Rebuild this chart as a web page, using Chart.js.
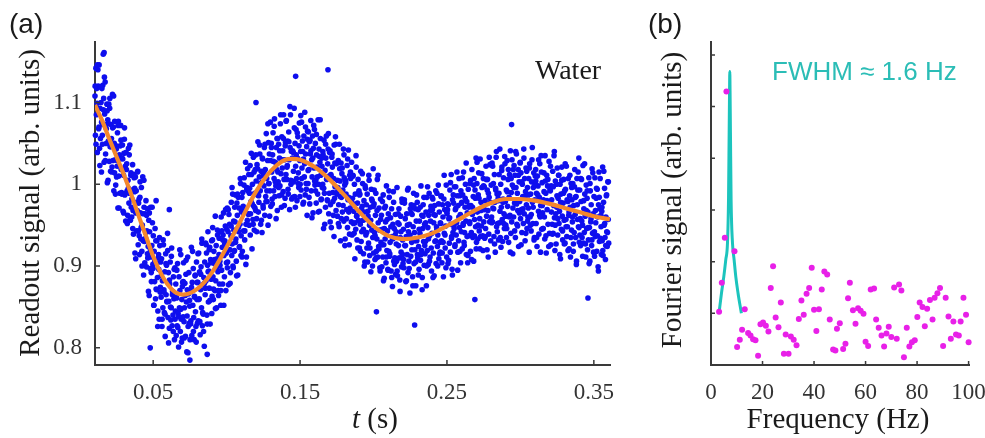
<!DOCTYPE html>
<html>
<head>
<meta charset="utf-8">
<script src="https://cdn.jsdelivr.net/npm/chart.js@4.4.1/dist/chart.umd.min.js"></script>
<style>
  html, body { margin: 0; padding: 0; background: #fff; overflow: hidden; }
  #wrap { position: relative; width: 985px; height: 438px; overflow: hidden; }
  canvas { position: absolute; top: 0; }
  #chartA { left: 0; }
  #chartB { left: 640px; }
</style>
</head>
<body>
<div id="wrap">
  <canvas id="chartA" width="640" height="438"></canvas>
  <canvas id="chartB" width="360" height="438"></canvas>
</div>
<script>
// (a) readout signal, time in units of 0.1 ms, signal x1000
const readoutTime = [
104,107,110,113,116,120,123,126,129,132,135,138,141,145,148,151,
154,157,160,163,166,170,173,176,179,182,185,188,191,195,198,201,
204,207,210,213,216,220,223,226,229,232,235,238,241,245,248,251,
254,257,260,263,266,270,273,276,279,282,285,288,291,295,298,301,
304,307,310,313,316,320,323,326,329,332,335,338,341,345,348,351,
354,357,360,363,366,370,373,376,379,382,385,388,391,395,398,401,
404,407,410,413,416,420,423,426,429,432,435,438,441,445,448,451,
454,457,460,463,466,470,473,476,479,482,485,488,491,495,498,501,
504,507,510,513,516,520,523,526,529,532,535,538,541,545,548,551,
554,557,560,563,566,570,573,576,579,582,585,588,591,595,598,601,
604,607,610,613,616,620,623,626,629,632,635,638,641,645,648,651,
654,657,660,663,666,670,673,676,679,682,685,688,691,695,698,701,
704,707,710,713,716,720,723,726,729,732,735,738,741,745,748,751,
754,757,760,763,766,770,773,776,779,782,785,788,791,795,798,801,
804,807,810,813,816,820,823,826,829,832,835,838,841,845,848,851,
854,857,860,863,866,870,873,876,879,882,885,888,891,895,898,901,
904,907,910,913,916,920,923,926,929,932,935,938,941,945,948,951,
954,957,960,963,966,970,973,976,979,982,985,988,991,995,998,1001,
1004,1007,1010,1013,1016,1020,1023,1026,1029,1032,1035,1038,1041,1045,1048,1051,
1054,1057,1060,1063,1066,1070,1073,1076,1079,1082,1085,1088,1091,1095,1098,1101,
1104,1107,1110,1113,1116,1120,1123,1126,1129,1132,1135,1138,1141,1145,1148,1151,
1154,1157,1160,1163,1166,1170,1173,1176,1179,1182,1185,1188,1191,1195,1198,1201,
1204,1207,1210,1213,1216,1220,1223,1226,1229,1232,1235,1238,1241,1245,1248,1251,
1254,1257,1260,1263,1266,1270,1273,1276,1279,1282,1285,1288,1291,1295,1298,1301,
1304,1307,1310,1313,1316,1320,1323,1326,1329,1332,1335,1338,1341,1345,1348,1351,
1354,1357,1360,1363,1366,1370,1373,1376,1379,1382,1385,1388,1391,1395,1398,1401,
1404,1407,1410,1413,1416,1420,1423,1426,1429,1432,1435,1438,1441,1445,1448,1451,
1454,1457,1460,1463,1466,1470,1473,1476,1479,1482,1485,1488,1491,1495,1498,1501,
1504,1507,1510,1513,1516,1520,1523,1526,1529,1532,1535,1538,1541,1545,1548,1551,
1554,1557,1560,1563,1566,1570,1573,1576,1579,1582,1585,1588,1591,1595,1598,1601,
1604,1607,1610,1613,1616,1620,1623,1626,1629,1632,1635,1638,1641,1645,1648,1651,
1654,1657,1660,1663,1666,1670,1673,1676,1679,1682,1685,1688,1691,1695,1698,1701,
1704,1707,1710,1713,1716,1720,1723,1726,1729,1732,1735,1738,1741,1745,1748,1751,
1754,1757,1760,1763,1766,1770,1773,1776,1779,1782,1785,1788,1791,1795,1798,1801,
1804,1807,1810,1813,1816,1820,1823,1826,1829,1832,1835,1838,1841,1845,1848,1851,
1854,1857,1860,1863,1866,1870,1873,1876,1879,1882,1885,1888,1891,1895,1898,1901,
1904,1907,1910,1913,1916,1920,1923,1926,1929,1932,1935,1938,1941,1945,1948,1951,
1954,1957,1960,1963,1966,1970,1973,1976,1979,1982,1985,1988,1991,1995,1998,2001,
2004,2007,2010,2013,2016,2020,2023,2026,2029,2032,2035,2038,2041,2045,2048,2051,
2054,2057,2060,2063,2066,2070,2073,2076,2079,2082,2085,2088,2091,2095,2098,2101,
2104,2107,2110,2113,2116,2120,2123,2126,2129,2132,2135,2138,2141,2145,2148,2151,
2154,2157,2160,2163,2166,2170,2173,2176,2179,2182,2185,2188,2191,2195,2198,2201,
2204,2207,2210,2213,2216,2220,2223,2226,2229,2232,2235,2238,2241,2245,2248,2251,
2254,2257,2260,2263,2266,2270,2273,2276,2279,2282,2285,2288,2291,2295,2298,2301,
2304,2307,2310,2313,2316,2320,2323,2326,2329,2332,2335,2338,2341,2345,2348,2351,
2354,2357,2360,2363,2366,2370,2373,2376,2379,2382,2385,2388,2391,2395,2398,2401,
2404,2407,2410,2413,2416,2420,2423,2426,2429,2432,2435,2438,2441,2445,2448,2451,
2454,2457,2460,2463,2466,2470,2473,2476,2479,2482,2485,2488,2491,2495,2498,2501,
2504,2507,2510,2513,2516,2520,2523,2526,2529,2532,2535,2538,2541,2545,2548,2551,
2554,2557,2560,2563,2566,2570,2573,2576,2579,2582,2585,2588,2591,2595,2598,2601,
2604,2607,2610,2613,2616,2620,2623,2626,2629,2632,2635,2638,2641,2645,2648,2651,
2654,2657,2660,2663,2666,2670,2673,2676,2679,2682,2685,2688,2691,2695,2698,2701,
2704,2707,2710,2713,2716,2720,2723,2726,2729,2732,2735,2738,2741,2745,2748,2751,
2754,2757,2760,2763,2766,2770,2773,2776,2779,2782,2785,2788,2791,2795,2798,2801,
2804,2807,2810,2813,2816,2820,2823,2826,2829,2832,2835,2838,2841,2845,2848,2851,
2854,2857,2860,2863,2866,2870,2873,2876,2879,2882,2885,2888,2891,2895,2898,2901,
2904,2907,2910,2913,2916,2920,2923,2926,2929,2932,2935,2938,2941,2945,2948,2951,
2954,2957,2960,2963,2966,2970,2973,2976,2979,2982,2985,2988,2991,2995,2998,3001,
3004,3007,3010,3013,3016,3020,3023,3026,3029,3032,3035,3038,3041,3045,3048,3051,
3054,3057,3060,3063,3066,3070,3073,3076,3079,3082,3085,3088,3091,3095,3098,3101,
3104,3107,3110,3113,3116,3120,3123,3126,3129,3132,3135,3138,3141,3145,3148,3151,
3154,3157,3160,3163,3166,3170,3173,3176,3179,3182,3185,3188,3191,3195,3198,3201,
3204,3207,3210,3213,3216,3220,3223,3226,3229,3232,3235,3238,3241,3245,3248,3251,
3254,3257,3260,3263,3266,3270,3273,3276,3279,3282,3285,3288,3291,3295,3298,3301,
3304,3307,3310,3313,3316,3320,3323,3326,3329,3332,3335,3338,3341,3345,3348,3351,
3354,3357,3360,3363,3366,3370,3373,3376,3379,3382,3385,3388,3391,3395,3398,3401,
3404,3407,3410,3413,3416,3420,3423,3426,3429,3432,3435,3438,3441,3445,3448,3451,
3454,3457,3460,3463,3466,3470,3473,3476,3479,3482,3485,3488,3491,3495,3498,3501,
3504,3507,3510,3513,3516,3520,3523,3526,3529,3532,3535,3538,3541,3545,3548,3551,
3554,3557,3560,3563,3566,3570,3573,3576,3579,3582,3585,3588,3591,3595,3598,3601
];
const readoutSignal = [
1108,1060,1142,1085,1117,1039,1093,1120,1068,1146,1044,1093,1056,1100,1015,1117,
1060,1121,1073,1105,1027,1086,1125,1037,1073,1050,1098,1002,1079,1053,1098,1028,
1093,1046,1016,1073,1056,1021,1110,1029,1070,992,1050,1077,1030,999,1047,1009,
1029,1063,971,1077,1010,1036,989,1047,1072,1018,990,1032,1048,967,1011,1038,
1055,987,1022,955,1039,1025,992,962,1005,1044,977,989,1048,956,1011,972,
960,993,1024,968,939,1008,991,916,1009,965,992,943,968,1016,926,977,
982,914,984,965,933,996,918,950,1009,931,889,972,930,964,934,980,
899,943,970,910,924,956,864,942,897,972,911,881,925,953,902,937,
852,918,881,946,860,872,903,931,886,845,910,896,835,925,868,905,
862,909,826,882,849,926,871,843,893,814,915,865,901,856,940,837,
892,857,824,878,905,834,849,922,827,869,840,887,860,810,898,845,
878,815,861,827,903,842,801,887,849,870,820,914,835,859,812,880,
838,904,832,849,879,814,890,856,795,871,911,826,866,830,858,810,
869,833,923,815,880,852,897,837,810,862,888,844,826,905,859,830,
880,833,916,860,893,816,871,899,849,928,827,877,841,886,802,905,
865,928,882,916,840,901,942,856,894,873,923,829,908,884,931,863,
932,887,859,918,903,870,961,882,925,849,909,938,893,864,914,878,
906,942,852,960,895,923,878,938,965,913,887,931,949,870,916,945,
971,905,942,877,963,951,920,892,937,978,913,927,988,898,955,918,
919,954,987,933,906,977,962,889,984,942,971,924,951,1001,913,966,
984,918,990,973,943,1008,932,966,1027,951,911,996,956,992,964,1012,
950,995,1023,964,979,1012,921,1000,957,1033,973,944,989,1018,968,1004,
958,1024,987,1052,966,978,1009,1037,992,951,1016,1002,941,1031,974,1011,
998,1045,962,1018,985,1062,1007,979,1029,950,1051,1001,1037,992,1076,973,
1050,1015,982,1036,1063,992,1007,1080,985,1027,998,1045,1018,968,1056,1003,
1049,986,1032,998,1074,1013,972,1058,1020,1041,991,1085,1006,1030,983,1051,
1012,1078,1006,1023,1053,988,1064,1030,969,1045,1085,1000,1040,1004,1032,984,
1039,1003,1093,985,1050,1022,1067,1007,980,1032,1058,1014,996,1075,1029,1000,
1040,993,1076,1020,1053,976,1031,1059,1009,1088,987,1037,1001,1046,962,1065,
1001,1064,1018,1052,976,1037,1078,992,1030,1009,1059,965,1044,1020,1067,999,
1050,1005,977,1036,1021,988,1079,1000,1043,967,1027,1056,1011,982,1032,996,
1000,1036,946,1054,989,1017,972,1032,1059,1007,981,1025,1043,964,1010,1039,
1041,975,1012,947,1033,1021,990,962,1007,1048,983,997,1058,968,1025,988,
961,996,1029,975,948,1019,1004,931,1026,984,1013,966,993,1043,955,1008,
999,933,1005,988,958,1023,947,981,1042,966,926,1011,971,1007,979,1027,
938,983,1011,952,967,1000,909,988,945,1021,961,932,977,1006,956,992,
922,988,951,1016,930,942,973,1001,956,915,980,966,905,995,938,975,
941,988,905,961,928,1005,950,922,972,893,994,944,980,935,1019,916,
976,941,908,962,989,918,933,1006,911,953,924,971,944,894,982,929,
962,899,945,911,987,926,885,971,933,954,904,998,919,943,896,964,
918,984,912,929,959,894,970,936,875,951,991,906,946,910,938,890,
942,906,996,888,953,925,970,910,883,935,961,917,899,978,932,903,
945,898,981,925,958,881,936,964,914,993,892,942,906,951,867,970,
912,975,929,963,887,948,989,903,941,920,970,876,955,931,978,910,
969,924,896,955,940,907,998,919,962,886,946,975,930,901,951,915,
930,966,876,984,919,947,902,962,989,937,911,955,973,894,940,969,
982,916,953,888,974,962,931,903,948,989,924,938,999,909,966,929,
917,952,985,931,904,975,960,887,982,940,969,922,949,999,911,964,
969,903,975,958,928,993,917,951,1012,936,896,981,941,977,949,997,
924,969,997,938,953,986,895,974,931,1007,947,918,963,992,942,978,
921,987,950,1015,929,941,972,1000,955,914,979,965,904,994,937,974,
954,1001,918,974,941,1018,963,935,985,906,1007,957,993,948,1032,929,
1001,966,933,987,1014,943,958,1031,936,978,949,996,969,919,1007,954,
997,934,980,946,1022,961,920,1006,968,989,939,1033,954,978,931,999,
960,1026,954,971,1001,936,1012,978,917,993,1033,948,988,952,980,932,
989,953,1043,935,1000,972,1017,957,930,982,1008,964,946,1025,979,950,
993,946,1029,973,1006,929,984,1012,962,1041,940,990,954,999,915,1018,
960,1023,977,1011,935,996,1037,951,989,968,1018,924,1003,979,1026,958,
1014,969,941,1000,985,952,1043,964,1007,931,991,1020,975,946,996,960,
971,1007,917,1025,960,988,943,1003,1030,978,952,996,1014,935,981,1010,
1018,952,989,924,1010,998,967,939,984,1025,960,974,1035,945,1002,965,
946,981,1014,960,933,1004,989,916,1011,969,998,951,978,1028,940,993,
992,926,998,981,951,1016,940,974,1035,959,919,1004,964,1000,972,1020,
938,983,1011,952,967,1000,909,988,945,1021,961,932,977,1006,956,992,
928,994,957,1022,936,948,979,1007,962,921,986,972,911,1001,944,981,
954,1001,918,974,941,1018,963,935,985,906,1007,957,993,948,1032,929,
993,958,925,979,1006,935,950,1023,928,970,941,988,961,911,999,946,
983,920,966,932,1008,947,906,992,954,975,925,1019,940,964,917,985,
942,1008,936,953,983,918,994,960,899,975,1015,930,970,934,962,914,
967,931,1021,913,978,950,995,935,908,960,986,942,924,1003,957,928
];
// second batch of samples, in between the first ones
const readoutTime2 = [
105,111,118,124,131,137,143,149, 155,161,168,174,181,187,193,199,
205,211,218,224,231,237,243,249, 255,261,268,274,281,287,293,299,
305,311,318,324,331,337,343,349, 355,361,368,374,381,387,393,399,
405,411,418,424,431,437,443,449, 455,461,468,474,481,487,493,499,
505,511,518,524,531,537,543,549, 555,561,568,574,581,587,593,599,
605,611,618,624,631,637,643,649, 655,661,668,674,681,687,693,699,
705,711,718,724,731,737,743,749, 755,761,768,774,781,787,793,799,
805,811,818,824,831,837,843,849, 855,861,868,874,881,887,893,899,
905,911,918,924,931,937,943,949, 955,961,968,974,981,987,993,999,
1005,1011,1018,1024,1031,1037,1043,1049, 1055,1061,1068,1074,1081,1087,1093,1099,
1105,1111,1118,1124,1131,1137,1143,1149, 1155,1161,1168,1174,1181,1187,1193,1199,
1205,1211,1218,1224,1231,1237,1243,1249, 1255,1261,1268,1274,1281,1287,1293,1299,
1305,1311,1318,1324,1331,1337,1343,1349, 1355,1361,1368,1374,1381,1387,1393,1399,
1405,1411,1418,1424,1431,1437,1443,1449, 1455,1461,1468,1474,1481,1487,1493,1499,
1505,1511,1518,1524,1531,1537,1543,1549, 1555,1561,1568,1574,1581,1587,1593,1599,
1605,1611,1618,1624,1631,1637,1643,1649, 1655,1661,1668,1674,1681,1687,1693,1699,
1705,1711,1718,1724,1731,1737,1743,1749, 1755,1761,1768,1774,1781,1787,1793,1799,
1805,1811,1818,1824,1831,1837,1843,1849, 1855,1861,1868,1874,1881,1887,1893,1899,
1905,1911,1918,1924,1931,1937,1943,1949, 1955,1961,1968,1974,1981,1987,1993,1999,
2005,2011,2018,2024,2031,2037,2043,2049, 2055,2061,2068,2074,2081,2087,2093,2099,
2105,2111,2118,2124,2131,2137,2143,2149, 2155,2161,2168,2174,2181,2187,2193,2199,
2205,2211,2218,2224,2231,2237,2243,2249, 2255,2261,2268,2274,2281,2287,2293,2299,
2305,2311,2318,2324,2331,2337,2343,2349, 2355,2361,2368,2374,2381,2387,2393,2399,
2405,2411,2418,2424,2431,2437,2443,2449, 2455,2461,2468,2474,2481,2487,2493,2499,
2505,2511,2518,2524,2531,2537,2543,2549, 2555,2561,2568,2574,2581,2587,2593,2599,
2605,2611,2618,2624,2631,2637,2643,2649, 2655,2661,2668,2674,2681,2687,2693,2699,
2705,2711,2718,2724,2731,2737,2743,2749, 2755,2761,2768,2774,2781,2787,2793,2799,
2805,2811,2818,2824,2831,2837,2843,2849, 2855,2861,2868,2874,2881,2887,2893,2899,
2905,2911,2918,2924,2931,2937,2943,2949, 2955,2961,2968,2974,2981,2987,2993,2999,
3005,3011,3018,3024,3031,3037,3043,3049, 3055,3061,3068,3074,3081,3087,3093,3099,
3105,3111,3118,3124,3131,3137,3143,3149, 3155,3161,3168,3174,3181,3187,3193,3199,
3205,3211,3218,3224,3231,3237,3243,3249, 3255,3261,3268,3274,3281,3287,3293,3299,
3305,3311,3318,3324,3331,3337,3343,3349, 3355,3361,3368,3374,3381,3387,3393,3399,
3405,3411,3418,3424,3431,3437,3443,3449, 3455,3461,3468,3474,3481,3487,3493,3499,
3505,3511,3518,3524,3531,3537,3543,3549, 3555,3561,3568,3574,3581,3587,3593,3599
];
const readoutSignal2 = [
1120,1049,1099,1140,1070,1023,1119,1076, 1049,1091,1131,1029,1068,1090,1005,1074,
1105,1046,1015,1069,1108,1014,988,1043, 1022,1072,971,1031,1054,988,1031,965,
1069,989,1018,952,995,1036,957,1014, 982,946,1012,995,909,978,1015,943,
937,1003,947,900,964,1005,904,941, 962,915,869,965,920,892,972,897,
852,906,931,871,826,914,935,874, 888,835,932,868,841,903,857,919,
806,883,850,912,865,820,896,835, 862,895,825,838,920,847,807,875,
881,812,864,907,839,794,892,851, 829,874,918,820,863,889,807,880,
915,859,832,890,933,843,820,879, 873,926,829,893,920,858,904,842,
947,872,908,848,897,944,870,934, 901,870,943,932,852,927,969,904,
898,969,920,879,949,996,900,944, 972,929,888,988,947,923,1007,937,
911,969,999,943,902,994,1019,963, 989,938,1038,976,951,1015,971,1036,
942,1019,986,1048,1001,956,1032,971, 1016,1049,979,992,1074,1001,961,1029,
1045,976,1028,1071,1003,958,1056,1015, 996,1041,1085,987,1030,1056,974,1047,
1077,1021,994,1052,1095,1005,982,1041, 1016,1069,972,1036,1063,1001,1047,985,
1084,1007,1040,978,1025,1070,994,1055, 1017,984,1054,1041,959,1032,1072,1004,
992,1061,1009,966,1034,1079,981,1022, 1040,995,951,1049,1006,980,1062,989,
954,1010,1037,979,936,1026,1049,990, 1005,952,1049,985,958,1020,974,1036,
925,1002,969,1031,984,939,1015,954, 977,1010,940,953,1035,962,922,990,
987,918,970,1013,945,900,998,957, 922,967,1011,913,956,982,900,973,
993,937,910,968,1011,921,898,957, 926,979,882,946,973,911,957,895,
992,915,948,886,933,978,902,963, 927,894,964,951,869,942,982,914,
908,977,925,882,950,995,897,938, 965,920,876,974,931,905,987,914,
889,945,972,914,871,961,984,925, 953,900,997,933,906,968,922,984,
886,963,930,992,945,900,976,915, 953,986,916,929,1011,938,898,966,
976,907,959,1002,934,889,987,946, 926,971,1015,917,960,986,904,977,
1008,952,925,983,1026,936,913,972, 952,1005,908,972,999,937,983,921,
1027,950,983,921,968,1013,937,998, 969,936,1006,993,911,984,1024,956,
953,1022,970,927,995,1040,942,983, 1012,967,923,1021,978,952,1034,961,
935,991,1018,960,917,1007,1030,971, 996,943,1040,976,949,1011,965,1027,
926,1003,970,1032,985,940,1016,955, 987,1020,950,963,1045,972,932,1000,
1004,935,987,1030,962,917,1015,974, 946,991,1035,937,980,1006,924,997,
1022,966,939,997,1040,950,927,986, 958,1011,914,978,1005,943,989,927,
1025,948,981,919,966,1011,935,996, 960,927,997,984,902,975,1015,947,
938,1007,955,912,980,1025,927,968, 992,947,903,1001,958,932,1014,941,
912,968,995,937,894,984,1007,948, 972,919,1016,952,925,987,941,1003
];
// stray points far from the cloud
const strayTime   = [160,166,120,480,750,868,1200,1470,1690,2020,2280,2690,3460,2940,520,610];
const straySignal = [1159,1161,1146,800,785,792,1100,1132,1140,844,828,859,861,1073,980,969];

// fitted damped oscillation
const fitTime   = [104,150,200,250,300,350,400,450,500,550,600,650,704,800,900,1000,1100,1200,1300,1400,1443,1500,1600,1700,1800,1900,2000,2100,2205,2300,2400,2500,2600,2700,2800,2900,2962,3000,3100,3200,3300,3400,3500,3609];
const fitSignal = [1097,1079,1056,1034,1012,988,962,937,912,892,877,868,865,872,892,923,957,991,1016,1030,1031,1030,1021,1006,987,967,949,937,933,935,940,949,959,969,977,982,982,982,980,976,971,966,961,957];

const tTicks = [0.05, 0.15, 0.25, 0.35];
const tTickLabels = ['0.05', '0.15', '0.25', '0.35'];
const sigTicks = [0.8, 0.9, 1.0, 1.1];
const sigTickLabels = ['0.8', '0.9', '1', '1.1'];

// (b) Fourier spectrum
const freqHz = [3.14,4.19,5.36,6.0,9.12,10.13,11.18,12.07,13.1,14.4,15.33,16.34,17.27,18.28,19.2,20.2,21.3,22.3,23.2,24.1,25.1,26.2,27.1,28.3,29.0,30.1,31.0,32.1,33.2,34.1,35.1,36.0,37.1,38.1,39.1,40.0,40.9,41.9,43.0,44.0,45.1,46.1,47.4,48.3,48.9,50.0,51.3,52.2,53.2,53.9,55.1,56.1,57.1,58.1,59.2,60.0,61.0,62.0,63.3,64.1,65.1,66.2,67.2,68.1,69.0,70.0,71.1,72.1,73.0,73.9,74.9,76.0,77.0,78.0,79.1,80.1,81.0,82.1,83.0,83.9,85.0,86.0,86.8,87.9,88.9,90.1,91.1,92.2,93.1,94.1,95.1,96.2,96.9,98.0,99.0,100.0];
const fourierAmp = [1.03,1.59,2.46,5.29,2.20,0.35,0.49,0.68,1.08,0.62,0.57,0.50,0.48,0.18,0.79,0.82,0.76,0.65,1.49,1.91,0.92,0.73,1.21,0.22,0.59,0.22,0.55,0.49,0.38,0.89,1.25,0.97,1.38,1.49,1.88,1.07,0.66,1.08,1.46,1.81,1.75,0.88,0.30,0.28,0.70,0.81,0.31,0.41,1.29,1.59,1.06,0.80,1.10,1.05,0.99,0.45,0.37,1.46,1.48,0.88,0.72,0.57,0.36,0.61,0.74,0.54,1.50,0.51,1.56,1.44,0.15,0.72,0.36,0.44,0.48,0.93,1.21,1.12,0.75,1.09,1.26,0.88,1.30,1.39,1.49,0.37,1.30,0.94,0.51,0.84,0.59,0.57,0.84,1.30,0.97,0.44];
const peakHz  = [3.2,4.07,4.97,5.74,6.4,6.8,7.05,7.2,7.3,7.4,7.55,7.8,8.34,8.97,9.62,10.5,11.8];
const peakAmp = [1.04,1.39,1.71,2.04,2.36,3.2,4.5,5.3,5.68,5.3,4.5,3.2,2.36,2.04,1.71,1.39,1.0];

const freqTicks = [0, 20, 40, 60, 80, 100];
const ampTicks = [1, 2, 3, 4, 5, 6];

const blue = 'rgb(14,14,238)';
const orange = '#f4872c';
const magenta = '#e820e8';
const cyan = '#1cc4bd';
const cyanText = '#2bbdb6';
const axisColor = '#3a3a3a';
const tickColor = '#333';
const textColor = '#1a1a1a';
const serif = "'Liberation Serif', 'Times New Roman', serif";
const sans = "'Liberation Sans', Arial, sans-serif";

const allTime = readoutTime.concat(readoutTime2, strayTime);
const allSignal = readoutSignal.concat(readoutSignal2, straySignal);
const readoutPts = allTime.map((t, i) => ({x: t / 10000, y: allSignal[i] / 1000}));
const fitPts = fitTime.map((t, i) => ({x: t / 10000, y: fitSignal[i] / 1000}));
const fourierPts = freqHz.map((f, i) => ({x: f, y: fourierAmp[i]}));
const peakPts = peakHz.map((f, i) => ({x: f, y: peakAmp[i]}));

// ticks drawn inward from the axis lines
const tickMarks = {
  id: 'tickMarks',
  afterDraw(chart, args, opts) {
    const {ctx, chartArea: a, scales: {x, y}} = chart;
    ctx.save();
    ctx.strokeStyle = axisColor;
    ctx.lineWidth = opts.width;
    ctx.beginPath();
    x.ticks.forEach(t => {
      const px = x.getPixelForValue(t.value);
      ctx.moveTo(px, a.bottom);
      ctx.lineTo(px, a.bottom - opts.len);
    });
    y.ticks.forEach(t => {
      const py = y.getPixelForValue(t.value);
      ctx.moveTo(a.left, py);
      ctx.lineTo(a.left + opts.len, py);
    });
    ctx.stroke();
    ctx.restore();
  }
};

// panel letters, axis titles and notes
const panelText = {
  id: 'panelText',
  afterDraw(chart, args, opts) {
    const ctx = chart.ctx;
    opts.items.forEach(it => {
      ctx.save();
      ctx.fillStyle = it.color || textColor;
      ctx.textBaseline = it.baseline || 'middle';
      ctx.translate(it.x, it.y);
      if (it.rotate) ctx.rotate(it.rotate);
      const parts = it.parts || [{text: it.text, font: it.font}];
      let w = 0;
      parts.forEach(p => { ctx.font = p.font; w += ctx.measureText(p.text).width; });
      let x0 = it.align === 'left' ? 0 : -w / 2;
      parts.forEach(p => {
        ctx.font = p.font;
        ctx.textAlign = 'left';
        ctx.fillText(p.text, x0, 0);
        x0 += ctx.measureText(p.text).width;
      });
      ctx.restore();
    });
  }
};

function fixedTicks(values) {
  return scale => { scale.ticks = values.map(v => ({value: v})); };
}

function baseScales(xOpt, yOpt) {
  return {
    x: Object.assign({
      type: 'linear',
      afterFit: s => { s.height = 73; },
      grid: {display: false, drawTicks: false},
      border: {display: true, color: axisColor, width: 2},
      ticks: {padding: 14, color: tickColor, autoSkip: false, maxRotation: 0, font: {family: serif, size: 23}}
    }, xOpt),
    y: Object.assign({
      type: 'linear',
      grid: {display: false, drawTicks: false},
      border: {display: true, color: axisColor, width: 2},
      ticks: {padding: 13, color: tickColor, autoSkip: false, font: {family: serif, size: 23}}
    }, yOpt)
  };
}

function readoutChart() {
  const scales = baseScales(
    {min: 0.0104, max: 0.361, afterBuildTicks: fixedTicks(tTicks)},
    {min: 0.779, max: 1.174, afterBuildTicks: fixedTicks(sigTicks), afterFit: s => { s.width = 95; }}
  );
  scales.x.ticks.callback = (v, i) => tTickLabels[i];
  scales.y.ticks.callback = (v, i) => sigTickLabels[i];

  new Chart(document.getElementById('chartA'), {
    type: 'scatter',
    data: {
      datasets: [
        {data: readoutPts, backgroundColor: blue, borderWidth: 0, pointRadius: 2.8, clip: false, order: 2},
        {type: 'line', data: fitPts, borderColor: orange, borderWidth: 4.2, pointRadius: 0, fill: false,
         cubicInterpolationMode: 'monotone', order: 1}
      ]
    },
    options: {
      responsive: false, animation: false, events: [],
      layout: {padding: {left: 0, right: 30, top: 42, bottom: 0}},
      scales: scales,
      plugins: {
        legend: {display: false}, tooltip: {enabled: false},
        tickMarks: {len: 5, width: 1.5},
        panelText: {items: [
          {text: '(a)', font: '28px ' + sans, x: 9, y: 25, align: 'left'},
          {text: 'Water', font: '28px ' + serif, x: 535, y: 79, align: 'left', baseline: 'alphabetic'},
          {text: 'Readout signal (arb. units)', font: '29px ' + serif, x: 31, y: 203, rotate: -Math.PI / 2},
          {parts: [{text: 't', font: 'italic 29px ' + serif}, {text: ' (s)', font: '29px ' + serif}], x: 375, y: 420}
        ]}
      }
    },
    plugins: [tickMarks, panelText]
  });
}

function fourierChart() {
  const scales = baseScales(
    {min: 0, max: 100.5, afterBuildTicks: fixedTicks(freqTicks)},
    {min: 0, max: 6.25, afterBuildTicks: fixedTicks(ampTicks), afterFit: s => { s.width = 71; }}
  );
  scales.y.ticks.display = false;

  new Chart(document.getElementById('chartB'), {
    type: 'scatter',
    data: {
      datasets: [
        {data: fourierPts, backgroundColor: magenta, borderWidth: 0, pointRadius: 3, clip: false, order: 1},
        {type: 'line', data: peakPts, borderColor: cyan, borderWidth: 3, pointRadius: 0, fill: false,
         cubicInterpolationMode: 'monotone', order: 2}
      ]
    },
    options: {
      responsive: false, animation: false, events: [],
      layout: {padding: {left: 0, right: 30, top: 42, bottom: 0}},
      scales: scales,
      plugins: {
        legend: {display: false}, tooltip: {enabled: false},
        tickMarks: {len: 4, width: 1.5},
        panelText: {items: [
          {text: '(b)', font: '28px ' + sans, x: 8, y: 25, align: 'left'},
          {text: 'FWHM \u2248 1.6 Hz', font: '26px ' + sans, x: 132, y: 80, align: 'left', baseline: 'alphabetic', color: cyanText},
          {text: 'Fourier signal (arb. units)', font: '29px ' + serif, x: 33, y: 200, rotate: -Math.PI / 2},
          {text: 'Frequency (Hz)', font: '29px ' + serif, x: 198, y: 420}
        ]}
      }
    },
    plugins: [tickMarks, panelText]
  });
}

readoutChart();
fourierChart();
</script>
</body>
</html>
